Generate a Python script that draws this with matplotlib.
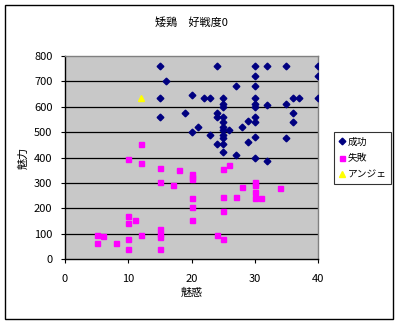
import matplotlib
matplotlib.use("Agg")
import matplotlib.pyplot as plt
from matplotlib.patches import Rectangle

plt.rcParams['font.family'] = ['Noto Sans CJK JP', 'DejaVu Sans']

title = "矮鶏　好戦度0"
x_label = "魅惑"
y_label = "魅力"
series_names = ["成功", "失敗", "アンジェ"]

success_x = [15, 24, 30, 32, 35, 40, 30, 40, 16, 27, 30, 20, 15, 22, 23, 25, 30, 36, 37, 40,
             25, 25, 30, 30, 32, 35, 19, 24, 24, 25, 25, 30, 30, 36, 36, 29, 15, 21, 20,
             25, 25, 26, 28, 23, 25, 25, 30, 35, 24, 25, 29, 25, 27, 30, 32]
success_y = [760, 760, 760, 760, 760, 760, 720, 720, 700, 680, 680, 645, 635, 635, 635, 635, 635, 635, 635, 635,
             610, 600, 610, 600, 605, 610, 575, 575, 560, 560, 540, 560, 540, 575, 540, 545, 560, 520, 500,
             520, 510, 510, 520, 490, 490, 475, 480, 475, 455, 455, 460, 420, 410, 400, 385]

fail_x = [12, 10, 12, 15, 18, 20, 20, 20, 15, 17, 20, 20, 20, 10, 10, 11, 5, 6, 5, 8, 10, 10, 12,
          15, 15, 15, 15, 25, 26, 28, 30, 30, 30, 30, 31, 34, 25, 27, 25, 24, 25]
fail_y = [455, 395, 380, 360, 350, 325, 335, 315, 305, 290, 240, 205, 155, 170, 140, 155, 95, 90, 65, 65, 80, 40, 95,
          120, 100, 85, 40, 355, 370, 285, 305, 290, 265, 240, 240, 278, 245, 245, 190, 95, 80]

angie_x = [12]
angie_y = [635]

x_ticks = [0, 10, 20, 30, 40]
y_ticks = [0, 100, 200, 300, 400, 500, 600, 700, 800]

fig = plt.figure(figsize=(4.0, 3.25), dpi=100)
fig.patch.set_facecolor("white")

# outer chart frame
fig.patches.append(Rectangle((5 / 400, 6 / 325), 388 / 400, 314 / 325,
                             transform=fig.transFigure, fill=False,
                             edgecolor="black", linewidth=1.0))

ax = fig.add_axes([65 / 400, 1 - 259 / 325, 253 / 400, 203 / 325])
ax.set_facecolor("#c8c8c8")
ax.set_xlim(0, 40)
ax.set_ylim(0, 800)
ax.set_xticks(x_ticks)
ax.set_yticks(y_ticks)
ax.set_xticklabels([str(v) for v in x_ticks], fontsize=8)
ax.set_yticklabels([str(v) for v in y_ticks], fontsize=8)
ax.tick_params(direction="out", length=3, width=0.8, pad=6)
ax.tick_params(axis="x", pad=8)

for yv in y_ticks[1:-1]:
    ax.axhline(yv, color="black", linewidth=0.9, zorder=1)

for side in ["left", "bottom"]:
    ax.spines[side].set_color("black")
    ax.spines[side].set_linewidth(1.0)
for side in ["top", "right"]:
    ax.spines[side].set_color("#808080")
    ax.spines[side].set_linewidth(1.0)

ax.plot(success_x, success_y, linestyle="none", marker="D", markersize=3.4,
        color="#000080", markeredgecolor="#000080", label=series_names[0], zorder=3)
ax.plot(fail_x, fail_y, linestyle="none", marker="s", markersize=3.6,
        color="#ff00ff", markeredgecolor="#ff00ff", label=series_names[1], zorder=3)
ax.plot(angie_x, angie_y, linestyle="none", marker="^", markersize=4.2,
        color="#ffff00", markeredgecolor="#ffff00", label=series_names[2], zorder=3)

ax.set_title(title, fontsize=8, pad=22)
ax.set_xlabel(x_label, fontsize=8, labelpad=2)
ax.set_ylabel(y_label, fontsize=8, labelpad=4)

leg = ax.legend(loc="upper left", bbox_to_anchor=(334 / 400, 1 - 132 / 325),
                bbox_transform=fig.transFigure, fontsize=7, frameon=True,
                fancybox=False, edgecolor="black", borderpad=0.5,
                handlelength=0.6, handletextpad=0.3, labelspacing=0.65,
                borderaxespad=0, markerscale=1.0)
leg.get_frame().set_linewidth(0.8)

fig.savefig("out.png", dpi=100, facecolor="white")
